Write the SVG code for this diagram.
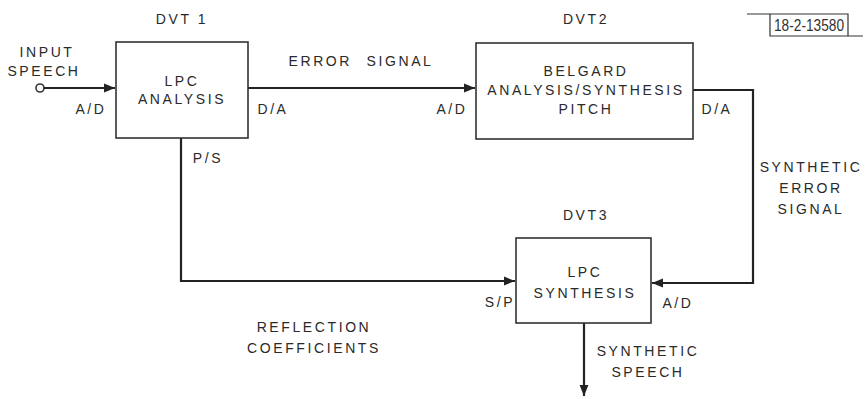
<svg xmlns="http://www.w3.org/2000/svg" width="866" height="399" viewBox="0 0 866 399">
<style>
text{font-family:"Liberation Sans",Arial,sans-serif;font-size:14px;fill:#2a2a2a;letter-spacing:2.6px;text-anchor:middle;dominant-baseline:central}
.box{fill:#fff;stroke:#333;stroke-width:1.6}
.wire{fill:none;stroke:#222;stroke-width:2.2}
.thin{fill:none;stroke:#333;stroke-width:1.2}
.tag{font-size:16px;letter-spacing:0;text-anchor:start;fill:#333}
</style>
<defs>
<marker id="arr" viewBox="0 0 10 10" refX="10" refY="5" markerWidth="6" markerHeight="5" markerUnits="strokeWidth" orient="auto">
<path d="M0,1 L10,5 L0,9 z" fill="#222"/>
</marker>
</defs>
<rect width="866" height="399" fill="#fff"/>
<g id="connectors">
<circle cx="40" cy="88" r="4" fill="#fff" stroke="#333" stroke-width="1.6"/>
<path class="wire" d="M44,88 H115" marker-end="url(#arr)"/>
<path class="wire" d="M248,88 H475" marker-end="url(#arr)"/>
<path class="wire" d="M693,90 H753 V283 H652" marker-end="url(#arr)"/>
<path class="wire" d="M181,138 V281 H515" marker-end="url(#arr)"/>
<path class="wire" d="M584,323 V396" marker-end="url(#arr)"/>
</g>
<g id="dvt1">
<rect class="box" x="116" y="42" width="132" height="96"/>
<text x="182" y="19">DVT 1</text>
<text x="182" y="81">LPC</text>
<text x="182" y="99">ANALYSIS</text>
</g>
<g id="dvt2">
<rect class="box" x="476" y="43" width="217" height="96"/>
<text x="586" y="19">DVT2</text>
<text x="586" y="71">BELGARD</text>
<text x="586" y="90">ANALYSIS/SYNTHESIS</text>
<text x="586" y="109">PITCH</text>
</g>
<g id="dvt3">
<rect class="box" x="516" y="238" width="135" height="85"/>
<text x="586" y="215">DVT3</text>
<text x="585" y="272">LPC</text>
<text x="585" y="293">SYNTHESIS</text>
</g>
<g id="labels">
<text x="47" y="52">INPUT</text>
<text x="44" y="71">SPEECH</text>
<text x="91" y="109">A/D</text>
<text x="273" y="109">D/A</text>
<text x="208" y="158">P/S</text>
<text x="361" y="61" style="word-spacing:8px">ERROR SIGNAL</text>
<text x="452" y="109">A/D</text>
<text x="717" y="109">D/A</text>
<text x="811" y="167">SYNTHETIC</text>
<text x="811" y="188">ERROR</text>
<text x="811" y="209">SIGNAL</text>
<text x="500" y="302">S/P</text>
<text x="678" y="303">A/D</text>
<text x="314" y="327">REFLECTION</text>
<text x="314" y="348">COEFFICIENTS</text>
<text x="648" y="351">SYNTHETIC</text>
<text x="648" y="372">SPEECH</text>
</g>
<g id="tag">
<path class="thin" d="M747,14 H848 V36 H770 V14 M848,36 H863"/>
<text class="tag" x="774" y="25.5" textLength="70" lengthAdjust="spacingAndGlyphs">18-2-13580</text>
</g>
</svg>
